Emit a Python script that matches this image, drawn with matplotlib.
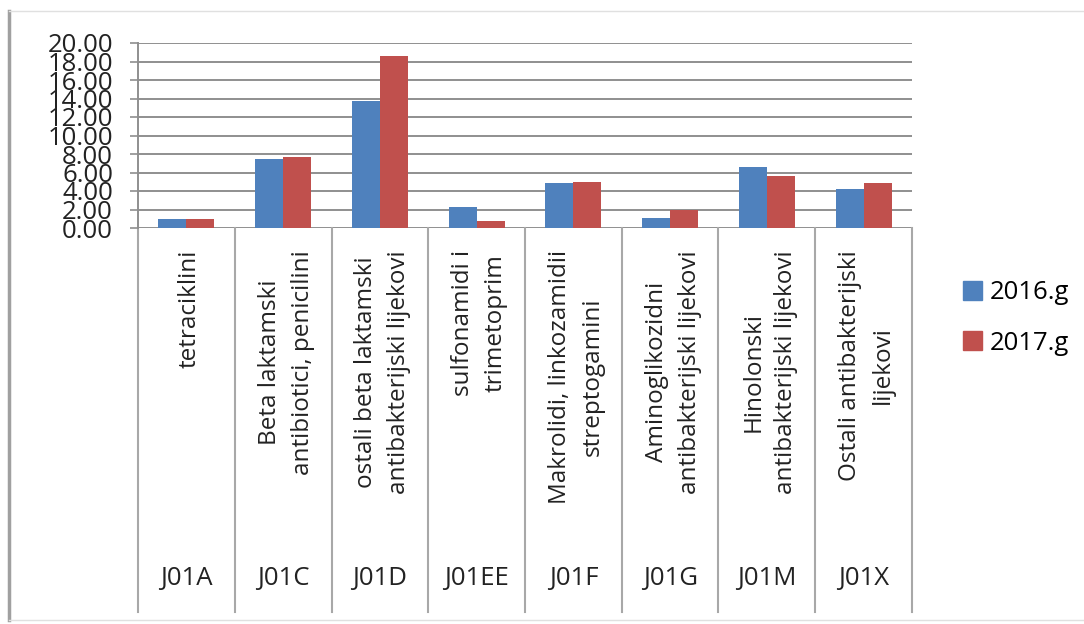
import matplotlib
matplotlib.use("Agg")
import matplotlib.pyplot as plt
from matplotlib.lines import Line2D
from matplotlib.patches import Patch
import numpy as np

# ---------------------- data ----------------------
codes = ["J01A", "J01C", "J01D", "J01EE", "J01F", "J01G", "J01M", "J01X"]
names = [
    "tetraciklini",
    "Beta laktamski\nantibiotici, penicilini",
    "ostali beta laktamski\nantibakterijski lijekovi",
    "sulfonamidi i\ntrimetoprim",
    "Makrolidi, linkozamidii\nstreptogamini",
    "Aminoglikozidni\nantibakterijski lijekovi",
    "Hinolonski\nantibakterijski lijekovi",
    "Ostali antibakterijski\nlijekovi",
]
v2016 = [0.97, 7.47, 13.68, 2.24, 4.84, 1.12, 6.57, 4.26]
v2017 = [0.97, 7.65, 18.56, 0.79, 5.02, 1.95, 5.63, 4.84]
series_names = ["2016.g", "2017.g"]
yticks = np.arange(0, 21, 2)

# ---------------------- style ----------------------
FONT = ["Open Sans", "DejaVu Sans"]
plt.rcParams["font.family"] = FONT
blue = "#4F81BD"
red = "#C0504D"
gray = "#8f8f8f"

W, H = 1084, 624
fig = plt.figure(figsize=(W / 100, H / 100), dpi=100)
fig.patch.set_facecolor("white")

# okvir slike
fig.add_artist(Line2D([9 / W, 9 / W], [1 - 11 / H, 1 - 620 / H], color="#a0a0a0", lw=2.5))
fig.add_artist(Line2D([9 / W, 1], [1 - 11 / H, 1 - 11 / H], color="#e0e0e0", lw=1))
fig.add_artist(Line2D([9 / W, 1], [1 - 620 / H, 1 - 620 / H], color="#e0e0e0", lw=1))

x0, x1, ytop, ybot = 138, 912, 43, 228
ax = fig.add_axes([x0 / W, 1 - ybot / H, (x1 - x0) / W, (ybot - ytop) / H])

x = np.arange(len(codes))
w = 0.29
ax.bar(x - w / 2, v2016, w, color=blue, label=series_names[0], zorder=3)
ax.bar(x + w / 2, v2017, w, color=red, label=series_names[1], zorder=3)

ax.set_xlim(-0.5, len(codes) - 0.5)
ax.set_ylim(0, 20)
ax.set_yticks(yticks)
ax.set_yticklabels([f"{t:.2f}" for t in yticks], fontsize=18.5, color="#222222")
ax.tick_params(axis="y", length=6, width=1.2, color=gray, pad=12)
ax.set_xticks([])
ax.yaxis.grid(True, color=gray, lw=1.4)
ax.set_axisbelow(True)
for s in ["top", "right", "bottom"]:
    ax.spines[s].set_visible(False)
ax.spines["left"].set_color(gray)
ax.spines["left"].set_linewidth(1.4)

# donji dio: separatori, nazivi i oznake
trans = ax.get_xaxis_transform()
ysep = (ybot - 612) / (ybot - ytop)
for k in range(len(codes) + 1):
    ax.plot([k - 0.5, k - 0.5], [0, ysep], color="#a8a8a8", lw=1.5,
            transform=trans, clip_on=False)

for i, (nm, cd) in enumerate(zip(names, codes)):
    ax.text(i + 0.03, (ybot - 250) / (ybot - ytop), nm, rotation=90, ha="center", va="top",
            multialignment="center", fontsize=17.5, linespacing=1.5,
            color="#222222", transform=trans)
    ax.text(i, (ybot - 578) / (ybot - ytop), cd, ha="center", va="center",
            fontsize=18.5, color="#222222", transform=trans)

handles = [Patch(color=blue), Patch(color=red)]
fig.legend(handles, series_names, loc="center left", bbox_to_anchor=(940 / W, 1 - 318 / H),
           frameon=False, fontsize=18.5, handlelength=0.75, handleheight=0.75,
           handletextpad=0.3, labelspacing=1.0)

fig.savefig("out.png", dpi=100)
